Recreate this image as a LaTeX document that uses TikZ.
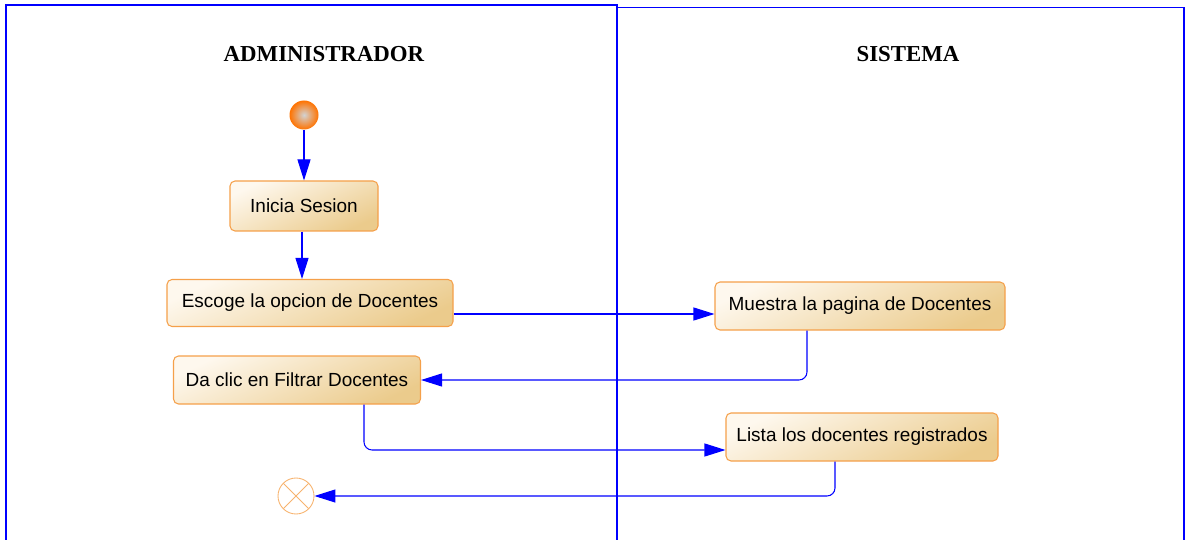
\documentclass[tikz,border=0pt]{standalone}
\usepackage{fontspec}
\setmainfont{Liberation Serif}
\setsansfont{Liberation Sans}
\usetikzlibrary{arrows.meta, positioning, calc}
\definecolor{carril}{HTML}{0000FF}
\definecolor{borde}{HTML}{F5A04A}
\definecolor{claro}{HTML}{FEF8EE}
\definecolor{oscuro}{HTML}{EBCB8C}

\begin{document}
\begin{tikzpicture}[
      accion/.style={draw=borde, line width=0.6pt, rounded corners=0.1cm,
                     shade, top color=claro, bottom color=oscuro, shading angle=25,
                     minimum height=0.96cm, inner sep=0pt,
                     font=\sffamily\fontsize{10.8}{13}\selectfont},
      inicio/.style={circle, minimum size=0.58cm, inner sep=0pt,
                     shading=radial, inner color=gray!35, outer color=orange!90!red},
      fin/.style={circle, draw=borde!80, line width=0.5pt, minimum size=0.72cm, inner sep=0pt,
                  path picture={\draw[borde!80, line width=0.5pt]
                    (path picture bounding box.north west) -- (path picture bounding box.south east)
                    (path picture bounding box.north east) -- (path picture bounding box.south west);}},
      titulo/.style={font=\rmfamily\bfseries\fontsize{13}{15}\selectfont},
      flujo/.style={-{Triangle[length=0.42cm, width=0.26cm]}, carril, line width=0.6pt},
      codo/.style={flujo, rounded corners=0.16cm},
      linea/.style={carril, line width=0.7pt}
    ]
    \useasboundingbox (0,0) rectangle (23.76,-10.8);

    % Carriles
    \draw[linea] (0.12,-10.8) -- (0.12,-0.10) -- (12.34,-0.10) -- (12.34,-10.8);
    \draw[linea] (12.34,-0.15) -- (23.68,-0.15) -- (23.68,-10.8);
    \node[titulo] (admin)   at (6.48,-1.08)  {ADMINISTRADOR};
    \node[titulo] (sistema) at (18.16,-1.08) {SISTEMA};

    % Acciones
    \node[inicio] (ini) at (6.08,-2.30) {};
    \node[accion, minimum width=2.96cm, minimum height=1.0cm] (inicia) at (6.08,-4.12) {Inicia Sesion};
    \node[accion, minimum width=5.72cm, minimum height=0.94cm] (escoge) at (6.20,-6.06) {Escoge la opcion de Docentes};
    \node[accion, minimum width=5.80cm] (muestra) at (17.20,-6.12) {Muestra la pagina de Docentes};
    \node[accion, minimum width=4.94cm] (filtrar) at (5.94,-7.60)  {Da clic en Filtrar Docentes};
    \node[accion, minimum width=5.44cm] (lista)   at (17.24,-8.74) {Lista los docentes registrados};
    \node[fin] (final) at (5.92,-9.92) {};

    % Flujos
    \draw[flujo] (ini) -- (ini |- inicia.north);
    \draw[flujo] ([xshift=-0.04cm]inicia.south) -- ([xshift=-0.04cm]inicia.south |- escoge.north);
    \draw[flujo] ([yshift=-0.22cm]escoge.east) -- ([yshift=-0.22cm]escoge.east -| muestra.west);
    \draw[codo] ([xshift=-1.06cm]muestra.south) |- (filtrar.east);
    \draw[codo] ([xshift=1.34cm]filtrar.south) |- ([yshift=-0.26cm]lista.west);
    \draw[codo] ([xshift=-0.54cm]lista.south) |- (final.east);
  \end{tikzpicture}
\end{document}
